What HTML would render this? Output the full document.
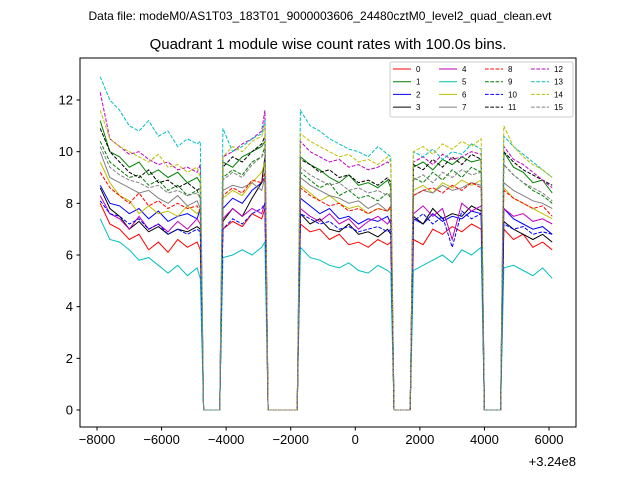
<!DOCTYPE html>
<html><head><meta charset="utf-8"><style>
body{margin:0;background:#fff;}
svg{display:block;font-family:"Liberation Sans","DejaVu Sans",sans-serif;}
</style></head><body>
<svg id="chart" width="640" height="480" viewBox="0 0 640 480" xmlns="http://www.w3.org/2000/svg">
<rect x="0" y="0" width="640" height="480" fill="#fff"/>
<text x="320" y="20" font-size="12" text-anchor="middle">Data file: modeM0/AS1T03_183T01_9000003606_24480cztM0_level2_quad_clean.evt</text>
<text x="328" y="49" font-size="15" text-anchor="middle">Quadrant 1 module wise count rates with 100.0s bins.</text>
<g id="plot"></g>
<rect x="80" y="58" width="496" height="369" fill="none" stroke="#000" stroke-width="1"/>
<g id="ticks"></g>
<text x="576" y="466" font-size="13" text-anchor="end">+3.24e8</text>
<g id="legend"></g>
</svg>
<script>
const times=[-7900,-7600,-7300,-7000,-6700,-6400,-6100,-5800,-5500,-5200,-4900,-4800,-4700,-4200,-4100,-3800,-3500,-3200,-2900,-2800,-2700,-1800,-1700,-1400,-1100,-800,-500,-200,100,400,700,1000,1100,1200,1700,1800,2100,2400,2700,3000,3300,3600,3900,4000,4500,4600,4900,5200,5500,5800,6100];
const s0=[8.0,7.2,7.0,6.6,6.8,6.2,6.5,6.1,6.6,6.3,6.5,6.2,0,0,7.0,7.3,7.1,7.6,7.4,7.8,0,0,7.2,6.9,7.0,6.6,6.8,6.4,6.5,6.3,6.6,6.4,6.5,0,0,6.6,6.4,7.0,6.8,7.1,6.9,7.2,7.0,0,0,7.0,6.6,6.8,6.3,6.5,6.2];
const s1=[11.2,10.0,9.8,9.4,9.6,9.1,9.3,9.0,9.2,8.8,9.0,8.8,0,0,9.6,9.4,9.8,10.0,10.2,10.4,0,0,9.8,9.5,9.3,9.0,8.8,9.1,8.7,8.8,8.6,8.9,8.6,0,0,9.4,9.6,9.3,9.7,9.5,9.8,9.6,9.7,0,0,10.0,9.4,9.2,8.8,8.9,8.4];
const s2=[8.7,8.0,7.9,7.6,7.8,7.4,7.7,7.3,7.5,7.6,7.4,7.8,0,0,7.8,8.2,8.0,8.5,8.8,9.0,0,0,8.2,7.9,7.6,7.8,7.4,7.5,7.2,7.4,7.3,7.5,7.2,0,0,7.4,7.2,7.6,7.3,7.5,7.4,7.7,7.6,0,0,7.8,7.4,7.2,7.0,7.1,6.8];
const s3=[8.6,7.8,7.5,7.0,7.3,6.9,7.1,6.8,7.0,6.9,7.1,7.0,0,0,7.3,7.8,7.5,8.2,8.8,9.8,0,0,7.6,7.2,7.4,7.0,6.9,7.2,6.8,6.9,6.7,7.0,6.8,0,0,7.5,7.2,7.8,7.4,7.6,7.5,7.9,7.7,0,0,7.3,7.0,6.8,6.6,6.8,6.5];
const s4=[8.3,7.6,7.4,7.0,7.5,7.0,7.2,6.9,7.3,7.0,7.4,7.2,0,0,7.4,7.8,7.5,7.8,7.6,8.0,0,0,7.8,7.5,7.3,7.6,7.2,7.4,7.0,7.3,7.5,7.2,7.4,0,0,7.6,7.9,7.5,7.8,6.6,8.0,7.7,7.9,0,0,7.8,7.5,7.6,7.3,7.4,7.2];
const s5=[7.4,6.6,6.5,6.2,5.8,5.9,5.6,5.3,5.6,5.2,5.5,5.1,0,0,5.9,6.0,6.2,6.0,6.3,6.5,0,0,6.3,5.9,5.8,5.6,5.5,5.7,5.4,5.3,5.6,5.4,5.3,0,0,5.4,5.6,5.8,6.0,5.7,6.2,6.0,6.3,0,0,5.5,5.6,5.4,5.2,5.5,5.1];
const s6=[9.6,8.8,8.3,8.1,7.6,7.9,7.6,7.7,7.5,7.9,7.6,7.8,0,0,8.2,8.5,8.3,8.8,9.2,9.6,0,0,8.7,8.4,8.1,8.3,8.0,7.8,7.9,7.6,7.8,7.7,7.8,0,0,8.5,8.7,8.4,8.8,8.6,8.9,8.7,8.9,0,0,8.6,8.2,8.0,7.8,7.6,7.4];
const s7=[10.0,9.0,8.8,8.6,8.4,8.5,8.2,8.0,8.3,7.9,8.1,7.8,0,0,8.5,8.7,8.6,8.8,8.5,9.0,0,0,9.0,8.7,8.5,8.3,8.2,8.0,8.1,7.8,8.0,7.7,7.9,0,0,8.3,8.5,8.4,8.7,8.5,8.6,8.8,8.7,0,0,8.8,8.5,8.3,8.1,8.0,7.8];
const s8=[9.2,8.6,8.3,8.0,8.4,7.9,8.1,7.8,8.0,7.8,7.9,7.7,0,0,8.3,8.6,8.4,8.9,8.8,9.2,0,0,8.6,8.3,8.1,7.9,8.0,7.7,7.8,7.6,7.8,7.7,7.9,0,0,8.3,8.5,8.6,8.4,8.7,8.5,8.8,8.6,0,0,8.5,8.2,8.0,7.8,7.9,7.5];
const s9=[10.4,9.6,9.3,9.0,9.1,8.7,8.9,8.5,8.7,8.3,8.5,8.2,0,0,9.0,9.3,9.1,9.6,9.8,10.2,0,0,9.2,8.9,8.6,8.8,8.3,8.5,8.2,8.3,8.1,8.4,8.2,0,0,9.0,8.8,9.2,8.9,9.3,9.0,9.4,9.2,0,0,9.5,9.1,8.8,8.5,8.3,8.0];
const s10=[8.1,7.6,7.5,7.2,7.4,7.0,7.2,6.8,7.0,6.8,7.0,6.9,0,0,7.0,7.4,7.2,7.6,7.8,8.0,0,0,7.6,7.4,7.2,7.3,7.0,7.1,6.9,7.0,7.1,6.9,7.0,0,0,7.3,7.6,7.2,7.5,6.3,7.7,7.4,7.6,0,0,7.2,7.0,7.1,6.8,6.9,6.8];
const s11=[10.9,10.0,9.6,9.2,9.0,9.3,8.8,8.9,8.6,8.8,8.5,8.6,0,0,9.4,9.8,9.6,10.0,10.3,10.6,0,0,9.7,9.5,9.2,9.3,9.0,9.1,8.8,8.9,8.7,9.0,8.8,0,0,9.5,9.3,9.7,9.4,9.8,9.5,9.9,9.7,0,0,10.0,9.6,9.3,9.1,8.9,8.7];
const s12=[12.3,10.5,10.2,9.9,10.0,9.7,9.5,9.6,9.3,9.4,9.2,9.5,0,0,9.8,10.0,10.3,10.5,10.8,11.6,0,0,10.4,10.0,9.8,9.6,9.7,9.4,9.5,9.3,9.4,9.6,9.5,0,0,9.6,9.8,9.5,9.9,9.7,9.8,10.0,9.9,0,0,10.2,9.7,9.5,9.2,8.9,8.6];
const s13=[12.9,12.0,11.6,11.0,10.8,11.2,10.6,10.8,10.2,10.5,10.3,10.4,0,0,10.9,10.0,10.2,10.5,10.7,11.2,0,0,11.6,11.0,10.8,10.5,10.3,10.1,10.0,9.8,10.2,9.9,9.8,0,0,10.0,9.8,10.1,9.7,10.0,9.9,10.3,10.1,0,0,10.6,10.2,9.9,9.6,9.3,9.0];
const s14=[11.6,10.5,10.2,10.0,9.8,9.6,9.9,9.4,9.5,9.2,9.4,9.0,0,0,9.8,10.2,10.0,10.4,10.6,11.0,0,0,10.7,10.4,10.2,10.0,9.8,9.9,9.6,9.7,9.5,9.8,9.6,0,0,10.0,10.2,9.9,10.3,10.1,10.4,10.2,10.5,0,0,11.0,10.2,9.8,9.5,9.3,9.0];
const s15=[10.2,9.4,9.1,8.9,8.8,8.6,8.7,8.4,8.5,8.3,8.4,8.2,0,0,8.9,9.2,9.0,9.5,9.8,10.0,0,0,9.4,9.1,8.9,8.7,8.8,8.5,8.6,8.4,8.5,8.3,8.4,0,0,8.9,9.1,8.8,9.2,9.0,9.3,9.1,9.2,0,0,9.5,9.1,8.8,8.6,8.4,8.1];
const seriesLabels=["0","1","2","3","4","5","6","7","8","9","10","11","12","13","14","15"];
const xTicks=[-8000,-6000,-4000,-2000,0,2000,4000,6000];
const yTicks=[0,2,4,6,8,10,12];

const allSeries=[s0,s1,s2,s3,s4,s5,s6,s7,s8,s9,s10,s11,s12,s13,s14,s15];
const colors=["#ff0000","#008000","#0000ff","#000000","#bf00bf","#00bfbf","#bfbf00","#808080"];
const NS="http://www.w3.org/2000/svg";
function xs(v){return 355.3+(v)*(452/14000);}
function ys(v){return 410-v*(310/12);}
function mk(tag,attrs,parent){const e=document.createElementNS(NS,tag);for(const k in attrs)e.setAttribute(k,attrs[k]);parent.appendChild(e);return e;}
const plot=document.getElementById('plot');
allSeries.forEach((s,i)=>{
  const d=s.map((v,j)=>(j?'L':'M')+xs(times[j]).toFixed(1)+','+ys(v).toFixed(1)).join('');
  const p=mk('path',{d:d,fill:'none',stroke:colors[i%8],'stroke-width':1},plot);
  if(i>=8)p.setAttribute('stroke-dasharray','3.7,1.6');
  
  
});
const tk=document.getElementById('ticks');
xTicks.forEach(v=>{
  const x=xs(v);
  const l=mk('line',{x1:x,x2:x,y1:427,y2:430.5,stroke:'#000'},tk);
  
  
  const t=mk('text',{x:x,y:444,'font-size':13,'text-anchor':'middle'},tk);
  t.textContent=v<0?'\u2212'+Math.abs(v):String(v);
  
  
});
yTicks.forEach(v=>{
  const y=ys(v);
  const l=mk('line',{x1:76.5,x2:80,y1:y,y2:y,stroke:'#000'},tk);
  
  
  const t=mk('text',{x:73,y:y+4.5,'font-size':13,'text-anchor':'end'},tk);
  t.textContent=String(v);
  
  
});
const lg=document.getElementById('legend');
mk('rect',{x:390,y:62,width:183,height:55,rx:2,fill:'#fff','fill-opacity':0.8,stroke:'#ccc'},lg);
seriesLabels.forEach((lab,i)=>{
  const col=Math.floor(i/4),row=i%4;
  const x0=393+col*46,y0=69+row*12.7;
  const l=mk('line',{x1:x0,x2:x0+18,y1:y0,y2:y0,stroke:colors[i%8],'stroke-width':1},lg);
  if(i>=8)l.setAttribute('stroke-dasharray','3.7,1.6');
  
  
  const t=mk('text',{x:x0+23,y:y0+3,'font-size':8},lg);
  t.textContent=lab;
  
  
});
</script>
</body></html>
